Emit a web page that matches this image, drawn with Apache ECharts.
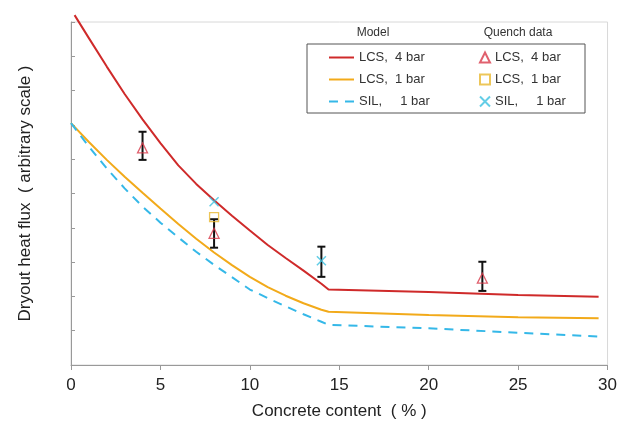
<!DOCTYPE html>
<html lang="en">
<head>
  <meta charset="UTF-8">
  <title>Dryout heat flux</title>
  <script src="https://cdn.jsdelivr.net/npm/echarts@6/dist/echarts.min.js"></script>
  <style>
    * { padding: 0; margin: 0; }
    #box { width: 620px; height: 430px; background: #fff; }
  </style>
</head>
<body>
  <div id="box"></div>
  <script>
    // model curves, [concrete %, flux]
    var lcs4Model = [[0.2, 10.2], [1, 9.53], [2, 8.7], [3, 7.9], [4, 7.16], [5, 6.47], [6, 5.82], [7, 5.28], [8, 4.8], [9, 4.35], [10, 3.92], [11, 3.5], [12, 3.12], [13, 2.75], [14, 2.37], [14.4, 2.2], [20, 2.13], [25, 2.04], [29.5, 1.99]]
    var lcs1Model = [[0, 7.05], [1, 6.5], [2, 5.98], [3, 5.49], [4, 5.02], [5, 4.56], [6, 4.11], [7, 3.68], [8, 3.28], [9, 2.91], [10, 2.57], [11, 2.27], [12, 2.02], [13, 1.8], [14, 1.61], [14.4, 1.55], [20, 1.46], [25, 1.39], [29.5, 1.36]]
    var silModel = [[0, 7.05], [1, 6.37], [2, 5.73], [3, 5.15], [4, 4.62], [5, 4.15], [6, 3.72], [7, 3.3], [8, 2.92], [9, 2.56], [10, 2.2], [11, 1.95], [12, 1.71], [13, 1.48], [14, 1.26], [14.4, 1.17], [20, 1.07], [25, 0.94], [29.5, 0.83]]

    // quench data
    var lcs4Quench = [[4, 6.33], [8, 3.84], [23, 2.53]]
    var lcs1Quench = [[8, 4.31]]
    var silQuench = [[8, 4.76], [14, 3.04]]

    // error bars: [x, low, high]
    var errBars = [[4, 5.98, 6.8], [8, 3.42, 4.25], [14, 2.57, 3.45], [23, 2.16, 3.01]]

    var labels = {
      m4: 'LCS,  4 bar', m1: 'LCS,  1 bar', ms: 'SIL,     1 bar',
      q4: 'LCS,  4 bar', q1: 'LCS,  1 bar', qs: 'SIL,     1 bar'
    }

    var RED = '#cf2a2a', ORANGE = '#f2aa1a', CYAN = '#35b8e8'
    var font = 'Liberation Sans, Arial, sans-serif'

    var mCharts = echarts.init(document.getElementById('box'))
    var option = {
      backgroundColor: '#fff',
      animation: false,
      textStyle: { fontFamily: font },
      grid: { left: 71, right: 11, top: 22, bottom: 65, show: true, borderColor: '#d8d8d8', borderWidth: 1 },
      graphic: [
        { type: 'rect', shape: { x: 307, y: 44, width: 278, height: 69 }, style: { fill: '#fff', stroke: '#555', lineWidth: 1 }, z: 5 },
        { type: 'text', x: 373, y: 33, style: { text: 'Model', font: '12px ' + font, fill: '#333', align: 'center', verticalAlign: 'middle' }, z: 6 },
        { type: 'text', x: 518, y: 33, style: { text: 'Quench data', font: '12px ' + font, fill: '#333', align: 'center', verticalAlign: 'middle' }, z: 6 }
      ],
      legend: [{
        data: ['m4', 'm1', 'ms'],
        orient: 'vertical',
        left: 328, top: 51,
        padding: 0,
        itemWidth: 25, itemHeight: 14, itemGap: 9,
        itemStyle: { color: 'rgba(0,0,0,0)', borderWidth: 0 },
        textStyle: { fontSize: 13, color: '#333', fontFamily: font },
        formatter: function (n) { return labels[n] },
        selectedMode: false,
        z: 10
      }, {
        data: ['q4', 'q1', 'qs'],
        orient: 'vertical',
        left: 479, top: 51,
        padding: 0,
        itemWidth: 10, itemHeight: 10, itemGap: 9,
        textStyle: { fontSize: 13, color: '#333', fontFamily: font },
        formatter: function (n) { return labels[n] },
        selectedMode: false,
        z: 10
      }],
      xAxis: {
        type: 'value',
        min: 0, max: 30, interval: 5,
        name: 'Concrete content  ( % )',
        nameLocation: 'middle',
        nameGap: 38,
        nameTextStyle: { fontSize: 17, color: '#222', fontFamily: font },
        axisLine: { lineStyle: { color: '#999' } },
        axisTick: { length: 5, lineStyle: { color: '#999' } },
        axisLabel: { fontSize: 17, color: '#222', margin: 12, fontFamily: font },
        splitLine: { show: false }
      },
      yAxis: {
        type: 'value',
        min: 0, max: 10, interval: 1,
        name: 'Dryout heat flux  ( arbitrary scale )',
        nameLocation: 'middle',
        nameGap: 37,
        nameTextStyle: { fontSize: 17, color: '#222', fontFamily: font },
        axisLine: { show: true, lineStyle: { color: '#999' } },
        axisTick: { inside: true, length: 4, lineStyle: { color: '#999' } },
        axisLabel: { show: false },
        splitLine: { show: false }
      },
      series: [
        { name: 'm4', type: 'line', data: lcs4Model, showSymbol: false, symbol: 'none', clip: false, lineStyle: { color: RED, width: 2 }, itemStyle: { color: RED }, z: 3 },
        { name: 'm1', type: 'line', data: lcs1Model, showSymbol: false, symbol: 'none', lineStyle: { color: ORANGE, width: 2 }, itemStyle: { color: ORANGE }, z: 3 },
        { name: 'ms', type: 'line', data: silModel, showSymbol: false, symbol: 'none', lineStyle: { color: CYAN, width: 2, type: [9, 7] }, itemStyle: { color: CYAN }, z: 3 },
        {
          name: 'err', type: 'custom', data: errBars, z: 4,
          renderItem: function (params, api) {
            var x = api.value(0)
            var lo = api.coord([x, api.value(1)])
            var hi = api.coord([x, api.value(2)])
            var w = 4
            var st = { stroke: '#111', lineWidth: 2 }
            return {
              type: 'group',
              children: [
                { type: 'line', shape: { x1: lo[0], y1: lo[1], x2: hi[0], y2: hi[1] }, style: st },
                { type: 'line', shape: { x1: lo[0] - w, y1: lo[1], x2: lo[0] + w, y2: lo[1] }, style: st },
                { type: 'line', shape: { x1: hi[0] - w, y1: hi[1], x2: hi[0] + w, y2: hi[1] }, style: st }
              ]
            }
          }
        },
        { name: 'q4', type: 'scatter', data: lcs4Quench, symbol: 'triangle', symbolSize: 10, itemStyle: { color: 'rgba(255,255,255,0)', borderColor: '#d83a4a', borderWidth: 1.3 }, z: 6 },
        { name: 'q1', type: 'scatter', data: lcs1Quench, symbol: 'rect', symbolSize: 9, itemStyle: { color: 'rgba(255,255,255,0)', borderColor: '#e8b830', borderWidth: 1.3 }, z: 6 },
        { name: 'qs', type: 'scatter', data: silQuench, symbol: 'path://M0,0L10,10M10,0L0,10', symbolSize: 9, itemStyle: { color: 'rgba(255,255,255,0)', borderColor: '#3cc0e0', borderWidth: 1.5 }, z: 6 }
      ]
    }
    mCharts.setOption(option)
  </script>
</body>
</html>
